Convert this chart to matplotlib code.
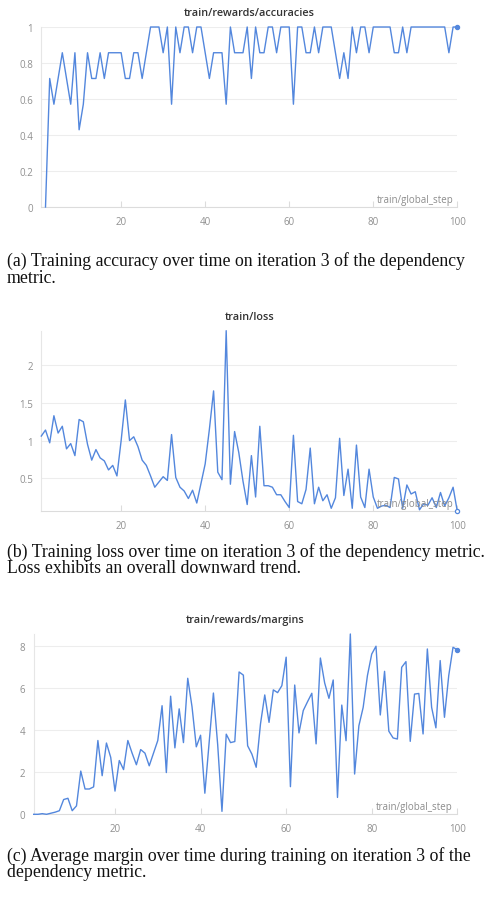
import numpy as np
import matplotlib
matplotlib.use("Agg")
import matplotlib.pyplot as plt

# ---- data ----
acc_steps = list(range(2, 101))
accuracies = [
    0.0, 0.714, 0.571, 0.714, 0.857, 0.714, 0.571, 0.857, 0.429, 0.571,   # 2-11
    0.857, 0.714, 0.714, 0.857, 0.714, 0.857, 0.857, 0.857, 0.857, 0.714,  # 12-21
    0.714, 0.857, 0.857, 0.714, 0.857, 1.0, 1.0, 1.0, 0.857, 1.0,          # 22-31
    0.571, 1.0, 0.857, 1.0, 1.0, 0.857, 1.0, 1.0, 0.857, 0.714,            # 32-41
    0.857, 0.857, 0.857, 0.571, 1.0, 0.857, 0.857, 0.857, 1.0, 0.714,      # 42-51
    1.0, 0.857, 0.857, 1.0, 1.0, 0.857, 1.0, 1.0, 1.0, 0.571,              # 52-61
    1.0, 1.0, 0.857, 0.857, 1.0, 0.857, 1.0, 1.0, 1.0, 0.857,              # 62-71
    0.714, 0.857, 0.714, 1.0, 0.857, 1.0, 1.0, 0.857, 1.0, 1.0,            # 72-81
    1.0, 1.0, 1.0, 0.857, 0.857, 1.0, 0.857, 1.0, 1.0, 1.0,                # 82-91
    1.0, 1.0, 1.0, 1.0, 1.0, 1.0, 0.857, 1.0, 1.0,                         # 92-100
]

steps = list(range(1, 101))
loss = [
    1.06, 1.14, 0.97, 1.33, 1.10, 1.19, 0.89, 0.96, 0.80, 1.28,   # 1-10
    1.25, 0.95, 0.74, 0.88, 0.77, 0.73, 0.61, 0.67, 0.53, 1.00,   # 11-20
    1.54, 1.00, 1.05, 0.92, 0.74, 0.67, 0.53, 0.38, 0.45, 0.52,   # 21-30
    0.47, 1.08, 0.51, 0.38, 0.33, 0.23, 0.34, 0.17, 0.43, 0.69,   # 31-40
    1.15, 1.66, 0.58, 0.48, 2.46, 0.42, 1.12, 0.84, 0.46, 0.15,   # 41-50
    0.80, 0.25, 1.19, 0.40, 0.40, 0.38, 0.28, 0.28, 0.19, 0.11,   # 51-60
    1.07, 0.19, 0.16, 0.35, 0.90, 0.16, 0.38, 0.20, 0.28, 0.10,   # 61-70
    0.24, 1.03, 0.27, 0.62, 0.10, 0.94, 0.25, 0.11, 0.62, 0.25,   # 71-80
    0.10, 0.13, 0.14, 0.11, 0.51, 0.49, 0.10, 0.41, 0.29, 0.32,   # 81-90
    0.08, 0.16, 0.14, 0.24, 0.11, 0.31, 0.13, 0.24, 0.38, 0.06,   # 91-100
]

margins = [
    0.0, 0.0, 0.03, 0.0, 0.05, 0.1, 0.17, 0.7, 0.76, 0.17,       # 1-10
    0.4, 2.05, 1.2, 1.2, 1.3, 3.5, 1.83, 3.38, 2.7, 1.1,         # 11-20
    2.55, 2.12, 3.5, 2.9, 2.35, 3.07, 2.9, 2.3, 2.9, 3.5,        # 21-30
    5.15, 1.98, 5.6, 3.15, 5.0, 3.4, 6.45, 5.1, 3.2, 3.75,       # 31-40
    1.0, 3.4, 5.75, 3.3, 0.14, 3.8, 3.4, 3.45, 6.75, 6.6,        # 41-50
    3.25, 2.85, 2.23, 4.28, 5.66, 4.36, 5.9, 5.77, 6.1, 7.45,    # 51-60
    1.31, 6.13, 3.86, 4.92, 5.34, 5.74, 3.34, 7.41, 6.23, 5.5,   # 61-70
    6.37, 0.8, 5.18, 3.49, 8.55, 1.91, 4.2, 5.07, 6.58, 7.6,     # 71-80
    7.97, 4.71, 6.78, 3.94, 3.62, 3.57, 6.97, 7.24, 3.46, 5.7,   # 81-90
    5.73, 3.81, 7.84, 5.07, 4.1, 7.29, 4.6, 6.58, 7.92, 7.8,     # 91-100
]

x_ticks = [20, 40, 60, 80, 100]

panels = [
    dict(title="train/rewards/accuracies", x=acc_steps, y=accuracies,
         yticks=[0, 0.2, 0.4, 0.6, 0.8, 1], ylabels=["0", "0.2", "0.4", "0.6", "0.8", "1"],
         ylim=(0, 1), box=(41.3, 457.3, 28, 208), end_face="#5387dd",
         caption=["(a) Training accuracy over time on iteration 3 of the dependency",
                  "metric."], cap_y=(266, 283)),
    dict(title="train/loss", x=steps, y=loss,
         yticks=[0.5, 1, 1.5, 2], ylabels=["0.5", "1", "1.5", "2"],
         ylim=(min(loss), max(loss)), box=(41.3, 457.3, 331.7, 512.3), end_face="white",
         caption=["(b) Training loss over time on iteration 3 of the dependency metric.",
                  "Loss exhibits an overall downward trend."], cap_y=(557, 573)),
    dict(title="train/rewards/margins", x=steps, y=margins,
         yticks=[0, 2, 4, 6, 8], ylabels=["0", "2", "4", "6", "8"],
         ylim=(0, max(margins)), box=(33.7, 457.3, 635, 815.3), end_face="#5387dd",
         caption=["(c) Average margin over time during training on iteration 3 of the",
                  "dependency metric."], cap_y=(861, 877)),
]

W, H = 490, 903
fig = plt.figure(figsize=(W / 100, H / 100), dpi=100)

line_c = "#5387dd"
tick_c = "#909090"
grid_c = "#ededed"

for p in panels:
    l, r, t, b = p["box"]
    ax = fig.add_axes([l / W, 1 - b / H, (r - l) / W, (b - t) / H])
    ax.plot(p["x"], p["y"], color=line_c, lw=1.0, clip_on=False, zorder=3)
    ax.plot(p["x"][-1:], p["y"][-1:], "o", color=line_c, mfc=p["end_face"], mew=0.9,
            ms=3.0, clip_on=False, zorder=4)
    ax.set_xlim(1, 100)
    ax.set_ylim(*p["ylim"])
    ax.set_xticks(x_ticks)
    ax.set_yticks(p["yticks"])
    ax.set_yticklabels(p["ylabels"])
    ax.grid(axis="y", color=grid_c, lw=0.8)
    ax.set_axisbelow(True)
    for s in ["top", "right"]:
        ax.spines[s].set_visible(False)
    ax.spines["left"].set_color("#e6e6e6")
    ax.spines["bottom"].set_color("#dcdcdc")
    ax.tick_params(axis="x", direction="in", length=4, color="#dcdcdc",
                   labelcolor=tick_c, labelsize=7, pad=6.5)
    ax.tick_params(axis="y", length=0, labelcolor=tick_c, labelsize=7, pad=6)
    for lab in ax.get_xticklabels() + ax.get_yticklabels():
        lab.set_family("Open Sans")
    ax.text(0.99, 0.012, "train/global_step", transform=ax.transAxes,
            ha="right", va="bottom", fontsize=7, color="#8c8c8c",
            family="Open Sans", zorder=5)
    ax.set_title(p["title"], fontsize=7.8, color="#333333", family="Open Sans",
                 fontweight="semibold", pad=8.5)
    for line, yb in zip(p["caption"], p["cap_y"]):
        fig.text(7 / W, 1 - yb / H, line, ha="left", va="baseline",
                 fontsize=12.8, family="Liberation Serif", color="#111111")

fig.savefig("out.png", dpi=100)
